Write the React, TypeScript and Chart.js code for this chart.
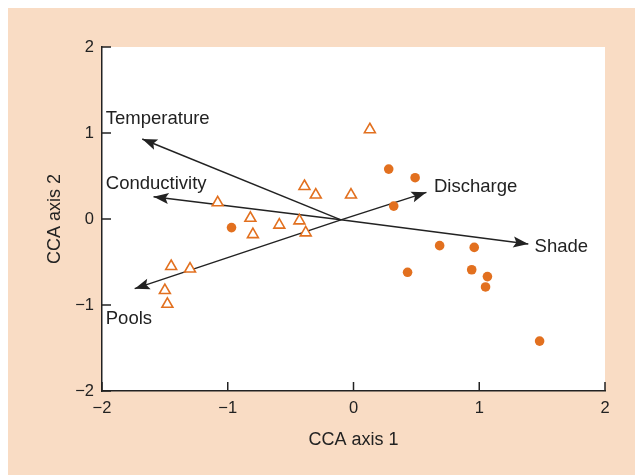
import React, { useEffect, useRef } from "react";
import { Chart, registerables } from "chart.js";
Chart.register(...registerables);

// Site scores (open triangles)
const triangleX = [0.13, -0.39, -0.30, -0.02, -1.08, -0.82, -0.59, -0.43, -0.80, -0.38, -1.45, -1.30, -1.50, -1.48];
const triangleY = [1.04, 0.38, 0.28, 0.28, 0.19, 0.01, -0.07, -0.02, -0.18, -0.16, -0.55, -0.58, -0.83, -0.99];
// Site scores (filled circles)
const circleX = [-0.97, 0.28, 0.49, 0.32, 0.685, 0.96, 0.43, 0.94, 1.065, 1.05, 1.48];
const circleY = [-0.10, 0.58, 0.48, 0.15, -0.31, -0.33, -0.62, -0.59, -0.67, -0.79, -1.42];
// Environmental variable arrows
const arrowNames = ["Temperature", "Conductivity", "Pools", "Discharge", "Shade"];
const arrowX = [-1.68, -1.59, -1.74, 0.58, 1.39];
const arrowY = [0.93, 0.26, -0.81, 0.31, -0.29];
const arrowOrigin = { x: -0.1, y: -0.01 };
const labelX = [-1.97, -1.97, -1.97, 0.64, 1.44];
const labelY = [1.16, 0.41, -1.16, 0.37, -0.33];
const tickValues = [-2, -1, 0, 1, 2];
const xTitle = "CCA axis 1";
const yTitle = "CCA axis 2";

const ORANGE = "#e2701f";
const INK = "#222222";
const PEACH = "#f9dcc4";
const FONT = "'Liberation Sans', Arial, Helvetica, sans-serif";

const fmt = (v: number) => (v < 0 ? "\u2212" + Math.abs(v) : String(v));

export default function App() {
  const ref = useRef<HTMLCanvasElement | null>(null);
  useEffect(() => {
    document.documentElement.style.overflow = "hidden";
    if (!ref.current) return;
    const arrowDatasets = arrowNames.map((n, i) => ({
      label: n,
      data: [
        { x: arrowOrigin.x, y: arrowOrigin.y },
        { x: arrowX[i], y: arrowY[i] },
      ],
      showLine: true,
      borderColor: INK,
      borderWidth: 1.5,
      pointRadius: 0,
      order: 2,
    }));
    const bgPlugin = {
      id: "bg",
      beforeDraw(chart: any) {
        const { ctx, chartArea } = chart;
        ctx.save();
        ctx.fillStyle = PEACH;
        ctx.fillRect(0, 0, chart.width, chart.height);
        ctx.fillStyle = "#ffffff";
        ctx.fillRect(chartArea.left, chartArea.top, chartArea.right - chartArea.left, chartArea.bottom - chartArea.top);
        ctx.restore();
      },
    };
    const decoPlugin = {
      id: "deco",
      afterDatasetsDraw(chart: any) {
        const { ctx, scales } = chart;
        const xs = scales.x, ys = scales.y;
        ctx.save();
        const ox = xs.getPixelForValue(arrowOrigin.x), oy = ys.getPixelForValue(arrowOrigin.y);
        arrowNames.forEach((_, i) => {
          const tx = xs.getPixelForValue(arrowX[i]), ty = ys.getPixelForValue(arrowY[i]);
          const a = Math.atan2(ty - oy, tx - ox);
          const L = 15, W = 5.5;
          ctx.beginPath();
          ctx.moveTo(tx, ty);
          ctx.lineTo(tx - L * Math.cos(a) + W * Math.sin(a), ty - L * Math.sin(a) - W * Math.cos(a));
          ctx.lineTo(tx - L * 0.8 * Math.cos(a), ty - L * 0.8 * Math.sin(a));
          ctx.lineTo(tx - L * Math.cos(a) - W * Math.sin(a), ty - L * Math.sin(a) + W * Math.cos(a));
          ctx.closePath();
          ctx.fillStyle = INK;
          ctx.fill();
        });
        ctx.font = `18.5px ${FONT}`;
        ctx.fillStyle = INK;
        ctx.textAlign = "left";
        ctx.textBaseline = "middle";
        arrowNames.forEach((n, i) => {
          ctx.fillText(n, xs.getPixelForValue(labelX[i]), ys.getPixelForValue(labelY[i]));
        });
        ctx.restore();
      },
      afterDraw(chart: any) {
        const { ctx, scales, chartArea } = chart;
        const xs = scales.x, ys = scales.y;
        ctx.save();
        ctx.strokeStyle = INK;
        ctx.lineWidth = 1.5;
        tickValues.forEach((v) => {
          const px = xs.getPixelForValue(v);
          ctx.beginPath();
          ctx.moveTo(px, chartArea.bottom);
          ctx.lineTo(px, chartArea.bottom - 9);
          ctx.stroke();
          const py = ys.getPixelForValue(v);
          ctx.beginPath();
          ctx.moveTo(chartArea.left, py);
          ctx.lineTo(chartArea.left + 9, py);
          ctx.stroke();
        });
        ctx.font = `18px ${FONT}`;
        ctx.fillStyle = INK;
        ctx.textAlign = "center";
        ctx.textBaseline = "middle";
        ctx.fillText(xTitle, (chartArea.left + chartArea.right) / 2, 432);
        ctx.translate(47, (chartArea.top + chartArea.bottom) / 2);
        ctx.rotate(-Math.PI / 2);
        ctx.fillText(yTitle, 0, 0);
        ctx.restore();
      },
    };
    const axisCommon = {
      type: "linear" as const,
      min: -2,
      max: 2,
      grid: { drawOnChartArea: false, drawTicks: false },
      border: { display: true, color: INK, width: 1.5 },
      ticks: {
        stepSize: 1,
        padding: 8,
        color: INK,
        font: { family: FONT, size: 16.5 },
        callback: (v: any) => fmt(Number(v)),
      },
    };
    const chart = new Chart(ref.current, {
      type: "scatter",
      data: {
        datasets: [
          ...arrowDatasets,
          {
            label: "triangles",
            data: triangleX.map((x, i) => ({ x, y: triangleY[i] })),
            pointStyle: "triangle",
            pointRadius: 6.3,
            borderColor: ORANGE,
            backgroundColor: "#ffffff",
            borderWidth: 1.6,
            order: 1,
          } as any,
          {
            label: "circles",
            data: circleX.map((x, i) => ({ x, y: circleY[i] })),
            pointStyle: "circle",
            pointRadius: 4.8,
            borderColor: ORANGE,
            backgroundColor: ORANGE,
            borderWidth: 0,
            order: 1,
          } as any,
        ],
      },
      options: {
        responsive: false,
        animation: false,
        layout: { padding: { left: 0, right: 43, top: 39, bottom: 0 } },
        plugins: { legend: { display: false }, tooltip: { enabled: false } },
        scales: {
          x: { ...axisCommon, afterFit: (s: any) => { s.height = 92; } } as any,
          y: { ...axisCommon, afterFit: (s: any) => { s.width = 94; } } as any,
        },
      },
      plugins: [bgPlugin, decoPlugin],
    });
    return () => chart.destroy();
  }, []);
  return (
    <canvas
      ref={ref}
      width={640}
      height={475}
      style={{ display: "block", position: "fixed", left: 8, top: 8 }}
    />
  );
}
